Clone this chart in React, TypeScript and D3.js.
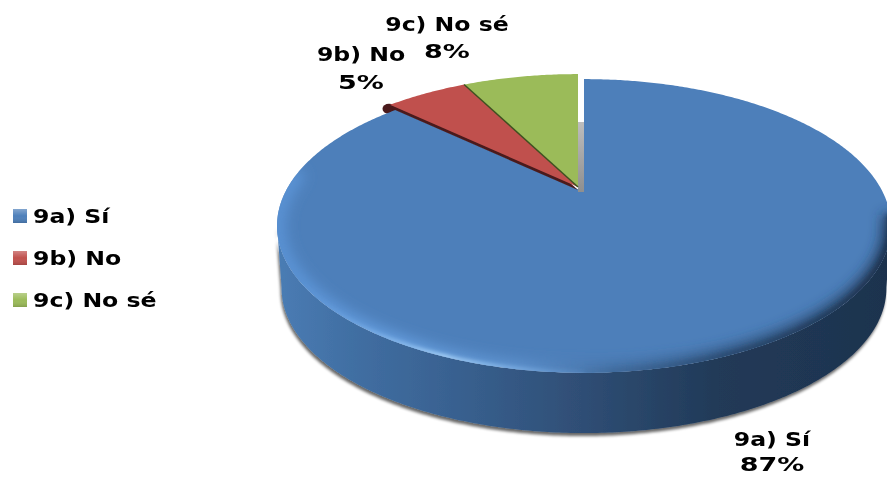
import React from "react";
import * as d3 from "d3";

const categories = ["9a) Sí", "9b) No", "9c) No sé"];
const seriesValues = [87, 5.4, 7.6];
const sliceColors = ["#4d7fba", "#c0504d", "#9bbb59"];
const sliceDark = ["#2a4a70", "#4a1a1c", "#3f5020"];

const W = 887, H = 477;
const CX = 584, CY = 192, R = 298.7, RY = 139, K = 0.231;
const BOTTOM_SCALE = 0.985, BOTTOM_CY = 255;

type P = [number, number];
// circle in the pie plane -> screen, with perspective
const project = (theta: number, cx = CX, cy = CY, scale = 1): P => {
  const u = Math.sin(theta), v = Math.cos(theta);
  const s = scale / (1 + K * v);
  return [cx + R * u * s, cy - RY * v * s];
};
const line = d3.line<P>().x(d => d[0]).y(d => d[1]);
const arcPts = (a0: number, a1: number, cx = CX, cy = CY, scale = 1): P[] => {
  const n = Math.max(2, Math.ceil(Math.abs(a1 - a0) / 0.01));
  return d3.range(n + 1).map(i => project(a0 + ((a1 - a0) * i) / n, cx, cy, scale));
};
const pie = d3.pie<number>().sort(null).startAngle(0).endAngle(2 * Math.PI);
const arcs = pie(seriesValues);
const color = d3.scaleOrdinal<string, string>().domain(categories).range(sliceColors);
const legendY = d3.scalePoint<string>().domain(categories).range([216, 300]);
const pct = (v: number) => `${Math.round(v)}%`;

const offsets: P[] = [[0, 0], [-6, -5], [-6, -5]];
const labelPos: P[] = [[772, 446], [361, 61], [447, 31]];
const pctDy = [25, 28, 27];
const FONT = "'DejaVu Sans', Verdana, sans-serif";
const NAME_STRETCH = 1.18, PCT_STRETCH = 1.35, FONT_SIZE = 20;

const facePath = (i: number, ox = 0, oy = 0) => {
  const [dx, dy] = offsets[i];
  const a = arcs[i];
  const pts: P[] = [[CX + dx + ox, CY + dy + oy], ...arcPts(a.startAngle, a.endAngle, CX + dx + ox, CY + dy + oy)];
  return line(pts)! + "Z";
};

// side wall: front half of both rims, between the left and right extremes
const wallLeft = Math.PI * 1.428, wallRight = Math.PI * 0.572;
const wallPts: P[] = [
  ...arcPts(wallLeft, wallRight),
  ...arcPts(wallRight, wallLeft, CX, BOTTOM_CY, BOTTOM_SCALE),
];
const wallD = line(wallPts)! + "Z";
const rimD = line(arcPts(Math.PI * 1.55, Math.PI * 0.55))!;
const rimGlintD = line(arcPts(Math.PI * 1.32, Math.PI * 1.0))!;
const rimDarkD = line(arcPts(Math.PI * 1.0, Math.PI * 0.55))!;

const redEdge = project(arcs[1].startAngle, CX + offsets[1][0], CY + offsets[1][1]);

export default function App() {
  return (
    <svg width={W} height={H} viewBox={`0 0 ${W} ${H}`}
      style={{ position: "absolute", left: 0, top: 0, background: "#fff" }}>
      <defs>
        <linearGradient id="wall" gradientUnits="userSpaceOnUse" x1={277} x2={887} y1={0} y2={0}>
          <stop offset="0" stopColor="#4a7cb4" />
          <stop offset="0.12" stopColor="#416fa3" />
          <stop offset="0.3" stopColor="#38608f" />
          <stop offset="0.5" stopColor="#2f4e75" />
          <stop offset="0.72" stopColor="#213a58" />
          <stop offset="1" stopColor="#1e334e" />
        </linearGradient>
        <linearGradient id="rim" gradientUnits="userSpaceOnUse" x1={277} x2={887} y1={0} y2={0}>
          <stop offset="0" stopColor="#5a93d6" />
          <stop offset="0.2" stopColor="#669fe0" />
          <stop offset="0.4" stopColor="#5f93cf" />
          <stop offset="0.55" stopColor="#416c9e" />
          <stop offset="0.75" stopColor="#2a4a70" />
          <stop offset="1" stopColor="#1f3552" />
        </linearGradient>
        <linearGradient id="glint" gradientUnits="userSpaceOnUse" x1={300} x2={600} y1={0} y2={0}>
          <stop offset="0" stopColor="#7fb8f5" stopOpacity="0" />
          <stop offset="0.48" stopColor="#b6deff" />
          <stop offset="1" stopColor="#7fb8f5" stopOpacity="0" />
        </linearGradient>
        <linearGradient id="gap" x1="0" x2="0" y1="0" y2="1">
          <stop offset="0" stopColor="#bdbdbd" />
          <stop offset="1" stopColor="#8f8f8f" />
        </linearGradient>
        <filter id="shadow" x="-5%" y="-10%" width="110%" height="125%">
          <feGaussianBlur in="SourceAlpha" stdDeviation="1.6" />
          <feOffset dx="-1" dy="3" />
          <feComponentTransfer><feFuncA type="linear" slope="0.6" /></feComponentTransfer>
          <feMerge><feMergeNode /><feMergeNode in="SourceGraphic" /></feMerge>
        </filter>
        <filter id="b8" x="-10%" y="-10%" width="120%" height="120%"><feGaussianBlur stdDeviation="7" /></filter>
        <filter id="b3" x="-10%" y="-10%" width="120%" height="120%"><feGaussianBlur stdDeviation="2" /></filter>
        <filter id="soft" x="-10%" y="-20%" width="120%" height="140%"><feGaussianBlur stdDeviation="0.55" /></filter>
        <clipPath id="blueClip"><path d={facePath(0)} /></clipPath>
        <linearGradient id="legendShade" x1="0" x2="0" y1="0" y2="1">
          <stop offset="0" stopColor="#fff" stopOpacity="0.3" />
          <stop offset="0.5" stopColor="#fff" stopOpacity="0" />
          <stop offset="1" stopColor="#000" stopOpacity="0.15" />
        </linearGradient>
      </defs>

      <path d={wallD} fill="url(#wall)" filter="url(#shadow)" />
      <ellipse cx={redEdge[0] - 1} cy={redEdge[1] + 4} rx={6.5} ry={5} fill={sliceDark[1]} />
      <path d={facePath(0)} fill={color(categories[0])} />
      <g clipPath="url(#blueClip)">
        <path d={rimD} fill="none" stroke="url(#rim)" strokeWidth={16} filter="url(#b8)" />
        <path d={rimDarkD} fill="none" stroke="url(#rim)" strokeWidth={7} filter="url(#b3)" />
        <path d={rimGlintD} fill="none" stroke="url(#glint)" strokeWidth={4} filter="url(#b3)" />
      </g>

      <rect x={CX - 6} y={122} width={6} height={CY - 122} fill="url(#gap)" />

      {/* dark cut edges of the pulled-out slices */}
      <path d={facePath(1, 0, 3)} fill={sliceDark[1]} />
      <path d={facePath(1)} fill={color(categories[1])} />
      <path d={facePath(2)} fill={color(categories[2])} />
      <path d={line([project(arcs[2].startAngle, CX - 6, CY - 5), [CX - 6, CY - 5]])!}
        stroke={sliceDark[2]} strokeWidth={1.5} fill="none" />

      <g fontFamily={FONT} fontWeight="bold" fontSize={FONT_SIZE} fill="#000" filter="url(#soft)">
        {categories.map((c, i) => {
          const [x, y] = labelPos[i];
          return (
            <g key={c} textAnchor="middle">
              <text transform={`translate(${x},${y}) scale(${NAME_STRETCH},1)`}>{c}</text>
              <text transform={`translate(${x},${y + pctDy[i]}) scale(${PCT_STRETCH},1)`}>{pct(seriesValues[i])}</text>
            </g>
          );
        })}
        {categories.map(c => {
          const y = legendY(c)!;
          return (
            <g key={c}>
              <rect x={13} y={y - 7} width={14} height={14} fill={color(c)} />
              <rect x={13} y={y - 7} width={14} height={14} fill="url(#legendShade)" />
              <text transform={`translate(33,${y + 7}) scale(${NAME_STRETCH},1)`}>{c}</text>
            </g>
          );
        })}
      </g>
    </svg>
  );
}
